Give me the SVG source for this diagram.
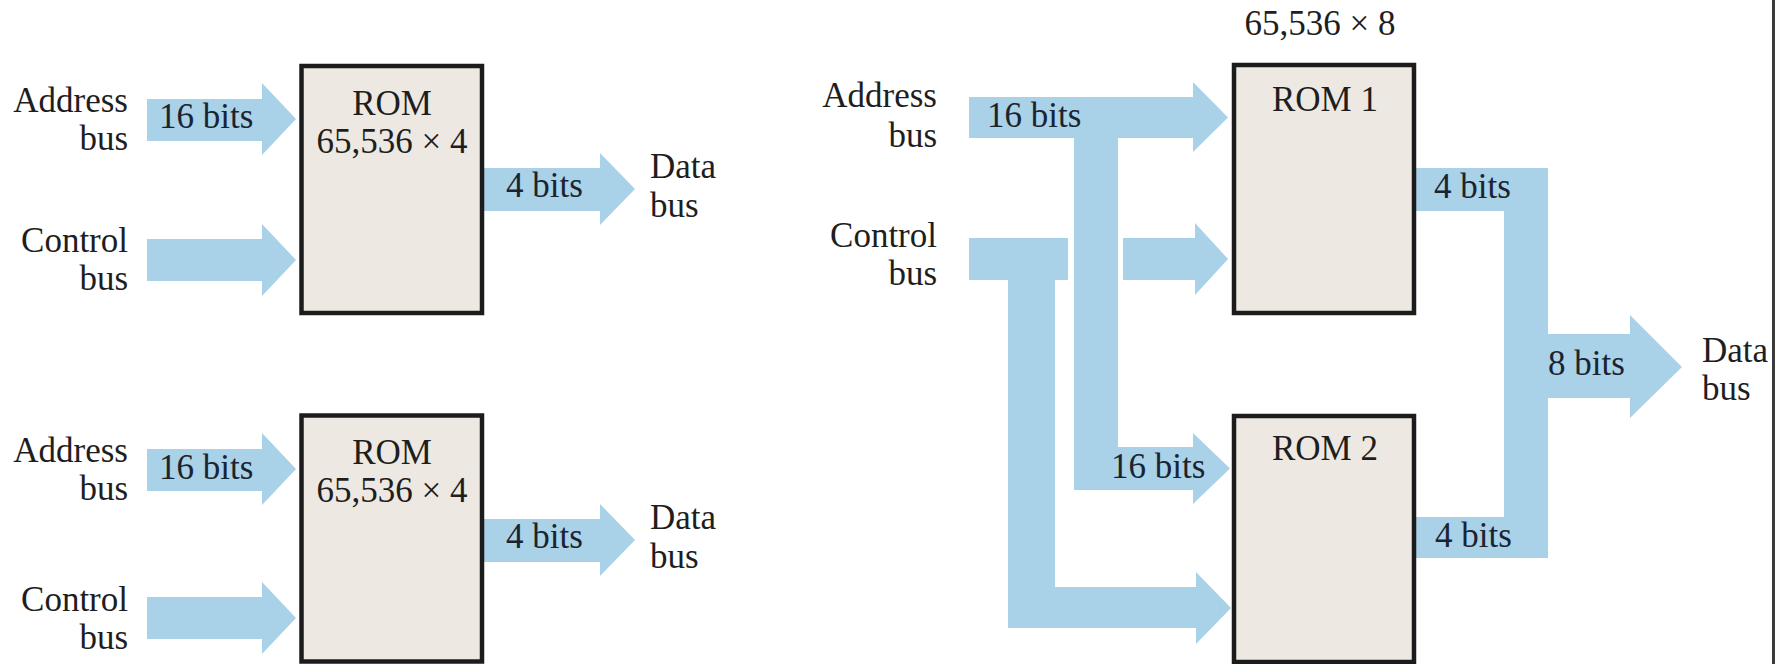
<svg xmlns="http://www.w3.org/2000/svg" width="1775" height="664" viewBox="0 0 1775 664">
<style>
.bus{fill:#a9d1e8;stroke:none}
.rom{fill:#ede9e2;stroke:#1c1c1c;stroke-width:4.5}
text{font-family:"Liberation Serif","Times New Roman",serif;font-size:35px;fill:#1e1e1e}
.e{text-anchor:end}
.m{text-anchor:middle}
.lbl{fill:#1a2430}
</style>
<rect x="0" y="0" width="1775" height="664" fill="#ffffff"/>
<g id="connectors">
  <path class="bus" d="M147,99 H262 V83 L296,119 L262,155 V141 H147 Z"/>
  <path class="bus" d="M147,239 H262 V224 L296,260 L262,296 V281 H147 Z"/>
  <path class="bus" d="M482,168 H600 V153 L635,189 L600,225 V211 H482 Z"/>
  <path class="bus" d="M147,449 H262 V433 L296,469 L262,505 V491 H147 Z"/>
  <path class="bus" d="M147,597 H262 V582 L296,618 L262,654 V639 H147 Z"/>
  <path class="bus" d="M482,519 H600 V504 L635,540 L600,576 V562 H482 Z"/>
  <path class="bus" d="M969,97 H1193 V82 L1228,117.5 L1193,152 V138 H1118 V447 H1193 V433 L1230,468.5 L1193,504 V490 H1074 V138 H969 Z"/>
  <path class="bus" d="M969,238 H1068 V280 H1055 V587 H1196 V572 L1231,608 L1196,644 V628 H1008 V280 H969 Z"/>
  <path class="bus" d="M1123,238 H1195 V223 L1228,259 L1195,295 V280 H1123 Z"/>
  <path class="bus" d="M1412,168 H1548 V334 H1630 V315 L1682,367 L1630,418 V398 H1548 V558 H1412 V517 H1504 V211 H1412 Z"/>
  <text class="lbl" x="159" y="128">16 bits</text>
  <text class="lbl" x="506" y="197">4 bits</text>
  <text class="lbl" x="159" y="479">16 bits</text>
  <text class="lbl" x="506" y="548">4 bits</text>
  <text class="lbl" x="987" y="127">16 bits</text>
  <text class="lbl" x="1111" y="478">16 bits</text>
  <text class="lbl" x="1434" y="198">4 bits</text>
  <text class="lbl" x="1435" y="547">4 bits</text>
  <text class="lbl" x="1548" y="375">8 bits</text>
</g>
<g id="rom-top">
  <rect class="rom" x="301.5" y="66" width="180.5" height="247"/>
  <text class="m" x="392" y="115">ROM</text>
  <text class="m" x="392" y="153">65,536 × 4</text>
</g>
<g id="rom-bottom">
  <rect class="rom" x="301.5" y="415.5" width="180.5" height="246"/>
  <text class="m" x="392" y="464">ROM</text>
  <text class="m" x="392" y="502">65,536 × 4</text>
</g>
<g id="rom1">
  <rect class="rom" x="1234" y="65" width="180" height="248"/>
  <text class="m" x="1325" y="111">ROM 1</text>
</g>
<g id="rom2">
  <rect class="rom" x="1234" y="416" width="180" height="246"/>
  <text class="m" x="1325" y="460">ROM 2</text>
</g>
<g id="labels-top-left">
  <text class="e" x="128" y="112">Address</text>
  <text class="e" x="128" y="150">bus</text>
  <text class="e" x="128" y="252">Control</text>
  <text class="e" x="128" y="290">bus</text>
  <text x="650" y="178">Data</text>
  <text x="650" y="217">bus</text>
</g>
<g id="labels-bottom-left">
  <text class="e" x="128" y="462">Address</text>
  <text class="e" x="128" y="500">bus</text>
  <text class="e" x="128" y="611">Control</text>
  <text class="e" x="128" y="649">bus</text>
  <text x="650" y="529">Data</text>
  <text x="650" y="568">bus</text>
</g>
<g id="labels-right">
  <text class="m" x="1320" y="35">65,536 × 8</text>
  <text class="e" x="937" y="107">Address</text>
  <text class="e" x="937" y="147">bus</text>
  <text class="e" x="937" y="247">Control</text>
  <text class="e" x="937" y="285">bus</text>
  <text x="1702" y="362">Data</text>
  <text x="1702" y="400">bus</text>
</g>
<rect id="edge" x="1772" y="0" width="3" height="664" fill="#3a3a3a"/>
</svg>
